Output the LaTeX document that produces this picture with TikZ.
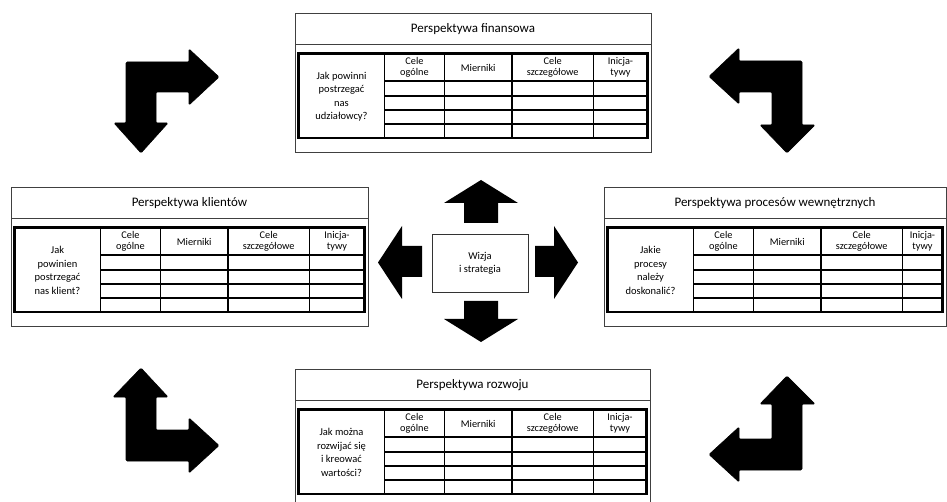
\documentclass[tikz,border=0pt]{standalone}
\usepackage{fontspec}
\setmainfont{Carlito}
\tikzset{
  outerbox/.style={draw=black!75, line width=0.9pt},
  tableframe/.style={draw=black, line width=2.2pt},
  gridline/.style={draw=black, line width=1.6pt},
  titletext/.style={font=\fontsize{13}{15}\selectfont, inner sep=0pt},
  headtext/.style={font=\fontsize{10.3}{11}\selectfont, align=center, inner sep=0pt},
  questtext/.style={font=\fontsize{10.5}{13.5}\selectfont, align=center, inner sep=0pt},
  bigarrow/.style={fill=black, draw=none},
  bentarrow/.style={fill=black, draw=black, line width=0.6pt, rounded corners=1.2pt},
  visionbox/.style={draw=black!80, line width=0.9pt, minimum width=96pt, minimum height=58pt, align=center, font=\fontsize{10.5}{13}\selectfont}
}
\newcommand\bscpanel[6]{%
\begin{scope}[shift={(#1,#2)}]
  \draw[outerbox] (0,0) rectangle (#3,139);
  \draw[outerbox] (0,31.5) -- (#3,31.5);
  \node[titletext] (#4-title) at ({#3/2},16) {#5};
  \foreach \yy in {68,83,97,111} \draw[gridline] (89.5,\yy) -- ({#3-3.5},\yy);
  \foreach \xx in {89.5,149.5,217,298.5} \draw[gridline] (\xx,40.5) -- (\xx,125);
  \draw[tableframe] (3.5,40.5) rectangle ({#3-3.5},125);
  \node[headtext] (#4-h1) at (119.5,54.5) {Cele\\ogólne};
  \node[headtext] (#4-h2) at (183.25,54.5) {Mierniki};
  \node[headtext] (#4-h3) at (257.75,54.5) {Cele\\szczegółowe};
  \node[headtext] (#4-h4) at ({(298.5+#3-3.5)/2},54.5) {Inicja-\\tywy};
  \node[questtext] (#4-q) at (46.5,83.5) {#6};
\end{scope}}
\begin{document}
\begin{tikzpicture}[x=1pt,y=-1pt]
\useasboundingbox (0,0) rectangle (947,502);
\clip (0,0) rectangle (947,502);
\fill[white] (0,0) rectangle (947,502);

% panels
\bscpanel{295}{13}{356}{fin}{Perspektywa finansowa}{Jak powinni\\postrzegać\\nas\\udziałowcy?}
\bscpanel{11}{187}{357}{kli}{Perspektywa klientów}{Jak\\powinien\\postrzegać\\nas klient?}
\bscpanel{604}{187}{342}{pro}{Perspektywa procesów wewnętrznych}{Jakie\\procesy\\należy\\doskonalić?}
\bscpanel{295}{369}{355}{roz}{Perspektywa rozwoju}{Jak można\\rozwijać się\\i kreować\\wartości?}

% centre
\node[visionbox] (vision) at (480,263) {Wizja\\i strategia};
\fill[bigarrow] (464,223) -- (464,203) -- (444,203) -- (481,180) -- (518,203) -- (498,203) -- (498,223) -- cycle;
\fill[bigarrow] (464,301) -- (498,301) -- (498,319) -- (518,319) -- (481,342) -- (444,319) -- (464,319) -- cycle;
\fill[bigarrow] (422,246) -- (402,246) -- (402,226) -- (378,262.5) -- (402,299) -- (402,277) -- (422,277) -- cycle;
\fill[bigarrow] (535,246) -- (554,246) -- (554,226) -- (578,262.5) -- (554,299) -- (554,277) -- (535,277) -- cycle;

% corner bent arrows
\filldraw[bentarrow] (126,62) -- (189,62) -- (189,49) -- (219,77) -- (189,105) -- (189,92) -- (156,92) -- (156,123) -- (168,123) -- (141,153) -- (114,123) -- (126,123) -- cycle;
\filldraw[bentarrow] (802,61) -- (739,61) -- (739,48) -- (709,76.5) -- (739,104) -- (739,92) -- (772,92) -- (772,125) -- (760,125) -- (787,153) -- (815,125) -- (802,125) -- cycle;
\filldraw[bentarrow] (126,461) -- (189,461) -- (189,473) -- (219,445.5) -- (189,418) -- (189,430) -- (156,430) -- (156,397) -- (168,397) -- (141,368) -- (113,397) -- (126,397) -- cycle;
\filldraw[bentarrow] (802,470) -- (739,470) -- (739,482) -- (709,454.5) -- (739,427) -- (739,439) -- (772,439) -- (772,404) -- (760,404) -- (787,376) -- (815,404) -- (802,404) -- cycle;
\end{tikzpicture}
\end{document}
